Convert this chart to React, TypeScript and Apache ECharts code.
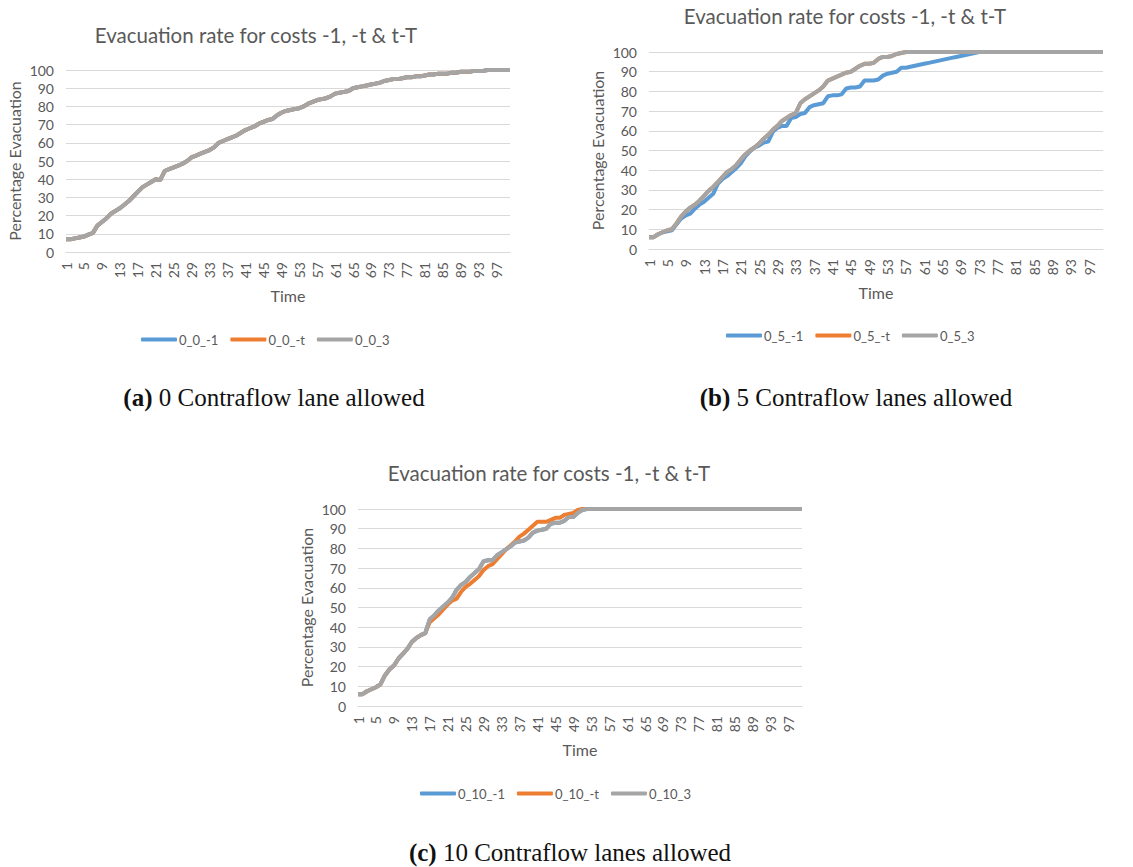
import React, { useEffect, useRef } from "react";
import * as echarts from "echarts";

// ---- categories (time steps) ----
const TIME: string[] = Array.from({ length: 100 }, (_, i) => String(i + 1));
const Y_TICKS = { min: 0, max: 100, interval: 10 };

// ---- (a) 0 contraflow lanes: all three cost functions coincide ----
const EVAC_0_0_3: number[] = [
  7, 7, 7.5, 8, 8.5, 9.5, 10.5, 14.5, 16.5, 18.5,
  21, 22.5, 24, 26, 28, 30.5, 33, 35.5, 37, 38.5,
  40, 39.5, 44.5, 45.5, 46.5, 47.5, 48.5, 50, 52, 53,
  54, 55, 56, 57.5, 60, 61, 62, 63, 64, 65.5,
  67, 68, 69, 70.5, 71.5, 72.5, 73, 75, 76.5, 77.5,
  78, 78.5, 79, 80, 81.5, 82.5, 83.5, 84, 84.5, 85.5,
  87, 87.5, 88, 88.5, 90, 90.5, 91, 91.5, 92, 92.5,
  93, 94, 94.5, 95, 95, 95.5, 96, 96, 96.5, 96.5,
  97, 97.5, 97.5, 98, 98, 98, 98.5, 98.5, 99, 99,
  99, 99.5, 99.5, 99.5, 100, 100, 100, 100, 100, 100,
];
const EVAC_0_0_M1: number[] = EVAC_0_0_3;
const EVAC_0_0_MT: number[] = EVAC_0_0_3;

// ---- (b) 5 contraflow lanes ----
const EVAC_0_5_M1: number[] = [
  6, 6, 7.5, 8.5, 9, 9.5, 12.5, 15.5, 17, 18,
  20.5, 22.5, 24, 26, 28, 33, 35.5, 37, 39, 41,
  43.5, 47, 49.5, 51.5, 52.5, 54, 54.5, 59.5, 61.5, 62.5,
  62.5, 66.5, 67, 68.5, 69, 72, 73, 73.5, 74, 77.5,
  78, 78, 78.5, 81.5, 82, 82, 82.5, 85.5, 85.5, 85.5,
  86, 88, 89, 89.5, 90, 92, 92, 92.5, 93, 93.5,
  94, 94.5, 95, 95.5, 96, 96.5, 97, 97.5, 98, 98.5,
  99, 99.5, 100, 100, 100, 100, 100, 100, 100, 100,
  100, 100, 100, 100, 100, 100, 100, 100, 100, 100,
  100, 100, 100, 100, 100, 100, 100, 100, 100, 100,
];
const EVAC_0_5_3: number[] = [
  6, 6, 7.5, 8.5, 9.5, 10, 13, 16.5, 19, 21,
  22.5, 24.5, 27, 29.5, 31.5, 34, 36.5, 39, 40.5, 42.5,
  45.5, 48, 50, 51.5, 53.5, 56, 58, 60.5, 62.5, 65,
  66.5, 68, 69, 74, 76, 77.5, 79, 80.5, 82.5, 85.5,
  86.5, 87.5, 88.5, 89.5, 90, 91.5, 93, 94, 94, 94.5,
  96.5, 97.5, 97.5, 98, 99, 99.5, 100, 100, 100, 100,
  100, 100, 100, 100, 100, 100, 100, 100, 100, 100,
  100, 100, 100, 100, 100, 100, 100, 100, 100, 100,
  100, 100, 100, 100, 100, 100, 100, 100, 100, 100,
  100, 100, 100, 100, 100, 100, 100, 100, 100, 100,
];
const EVAC_0_5_MT: number[] = EVAC_0_5_3;

// ---- (c) 10 contraflow lanes ----
const EVAC_0_10_MT: number[] = [
  6, 6, 7.5, 8.5, 9.5, 11, 15.5, 18.5, 20.5, 24,
  26.5, 29, 32.5, 34.5, 36, 37, 42.5, 44.5, 46.5, 49,
  51.5, 53.5, 54.5, 58, 60.5, 62, 64, 66, 69, 71,
  72, 74.5, 77, 79.5, 81.5, 83.5, 86, 87.5, 89.5, 91.5,
  93.5, 93.5, 93.5, 94.5, 95.5, 95.5, 97, 97.5, 98, 99.5,
  100, 100, 100, 100, 100, 100, 100, 100, 100, 100,
  100, 100, 100, 100, 100, 100, 100, 100, 100, 100,
  100, 100, 100, 100, 100, 100, 100, 100, 100, 100,
  100, 100, 100, 100, 100, 100, 100, 100, 100, 100,
  100, 100, 100, 100, 100, 100, 100, 100, 100, 100,
];
const EVAC_0_10_3: number[] = [
  6, 6, 7.5, 8.5, 9.5, 11, 15.5, 18.5, 20.5, 24,
  26.5, 29, 32.5, 34.5, 36, 37, 44, 46, 48.5, 50.5,
  52.5, 55, 59, 61.5, 63, 65.5, 67.5, 69.5, 73.5, 74,
  74, 76.5, 78, 79.5, 81, 83, 83.5, 84, 85.5, 88,
  89, 89.5, 90, 92.5, 93, 93, 94, 96, 96, 98,
  99.5, 100, 100, 100, 100, 100, 100, 100, 100, 100,
  100, 100, 100, 100, 100, 100, 100, 100, 100, 100,
  100, 100, 100, 100, 100, 100, 100, 100, 100, 100,
  100, 100, 100, 100, 100, 100, 100, 100, 100, 100,
  100, 100, 100, 100, 100, 100, 100, 100, 100, 100,
];
const EVAC_0_10_M1: number[] = EVAC_0_10_3;

const TITLE = "Evacuation rate for costs -1, -t & t-T";
const SERIES_NAMES = [
  ["0_0_-1", "0_0_-t", "0_0_3"],
  ["0_5_-1", "0_5_-t", "0_5_3"],
  ["0_10_-1", "0_10_-t", "0_10_3"],
];
const SERIES_DATA = [
  [EVAC_0_0_M1, EVAC_0_0_MT, EVAC_0_0_3],
  [EVAC_0_5_M1, EVAC_0_5_MT, EVAC_0_5_3],
  [EVAC_0_10_M1, EVAC_0_10_MT, EVAC_0_10_3],
];
const CAPTIONS = [
  ["(a)", "0 Contraflow lane allowed"],
  ["(b)", "5 Contraflow lanes allowed"],
  ["(c)", "10 Contraflow lanes allowed"],
];

const COLORS = ["#5B9BD5", "#ED7D31", "#A5A5A5"];
const TXT = "#595959";
const GRIDC = "#D9D9D9";
const FONT = "Lato";

// layout per panel
const PANELS = [
  { grid: { left: 66, top: 70, width: 444, height: 182 }, title: [256, 36], legend: [141, 341], caption: [274, 397] },
  { grid: { left: 649, top: 52, width: 454, height: 197 }, title: [845, 17], legend: [726, 337], caption: [856, 397] },
  { grid: { left: 358, top: 509, width: 444, height: 197 }, title: [549, 474], legend: [420, 795], caption: [570, 852] },
];

export default function App() {
  const ref = useRef<HTMLDivElement>(null);
  useEffect(() => {
    if (!ref.current) return;
    const chart = echarts.init(ref.current, undefined, { renderer: "svg" });
    const option: any = {
      animation: false,
      backgroundColor: "#ffffff",
      title: PANELS.map((p) => ({
        text: TITLE,
        left: p.title[0],
        top: p.title[1] - 12,
        textAlign: "center",
        padding: 0,
        textStyle: { fontFamily: FONT, fontSize: 20.5, fontWeight: "normal", color: TXT },
      })),
      legend: PANELS.map((p, i) => ({
        data: SERIES_NAMES[i],
        left: p.legend[0],
        top: p.legend[1] - 8,
        padding: 0,
        itemWidth: 36,
        itemHeight: 4,
        itemGap: 12,
        icon: "roundRect",
        textStyle: { fontFamily: FONT, fontSize: 13, color: TXT, padding: [0, 0, 0, -3] },
      })),
      grid: PANELS.map((p) => ({ ...p.grid, containLabel: false })),
      xAxis: PANELS.map((_, i) => ({
        type: "category",
        gridIndex: i,
        data: TIME,
        boundaryGap: false,
        axisLine: { lineStyle: { color: GRIDC, width: 1 } },
        axisTick: { show: false },
        axisLabel: { interval: 3, rotate: 90, fontFamily: FONT, fontSize: 14, color: TXT, margin: 10 },
        name: "Time",
        nameLocation: "middle",
        nameGap: 35,
        nameTextStyle: { fontFamily: FONT, fontSize: 16, color: TXT },
        splitLine: { show: false },
      })),
      yAxis: PANELS.map((_, i) => ({
        type: "value",
        gridIndex: i,
        min: Y_TICKS.min,
        max: Y_TICKS.max,
        interval: Y_TICKS.interval,
        axisLine: { show: false },
        axisTick: { show: false },
        axisLabel: { fontFamily: FONT, fontSize: 14, color: TXT, margin: 12 },
        splitLine: { lineStyle: { color: GRIDC, width: 1 } },
        name: "Percentage Evacuation",
        nameLocation: "middle",
        nameRotate: 90,
        nameGap: 44,
        nameTextStyle: { fontFamily: FONT, fontSize: 16, color: TXT },
      })),
      series: SERIES_DATA.flatMap((group, i) =>
        group.map((data, j) => ({
          type: "line",
          name: SERIES_NAMES[i][j],
          xAxisIndex: i,
          yAxisIndex: i,
          data,
          symbol: "none",
          showSymbol: false,
          color: COLORS[j],
          lineStyle: { color: COLORS[j], width: 4 },
          z: 2 + j,
        }))
      ),
      graphic: PANELS.map((p, i) => ({
        type: "text",
        x: p.caption[0],
        y: p.caption[1],
        style: {
          text: `{b|${CAPTIONS[i][0]}} ${CAPTIONS[i][1]}`,
          textAlign: "center",
          textVerticalAlign: "middle",
          fontFamily: "Liberation Serif",
          fontSize: 25,
          fill: "#111111",
          rich: {
            b: { fontFamily: "Liberation Serif", fontSize: 25, fontWeight: "bold", fill: "#111111" },
          },
        },
      })),
    };
    chart.setOption(option);
    return () => chart.dispose();
  }, []);
  return (
    <div
      ref={ref}
      style={{ position: "absolute", left: 0, top: 0, width: 1133, height: 867, background: "#fff" }}
    />
  );
}
